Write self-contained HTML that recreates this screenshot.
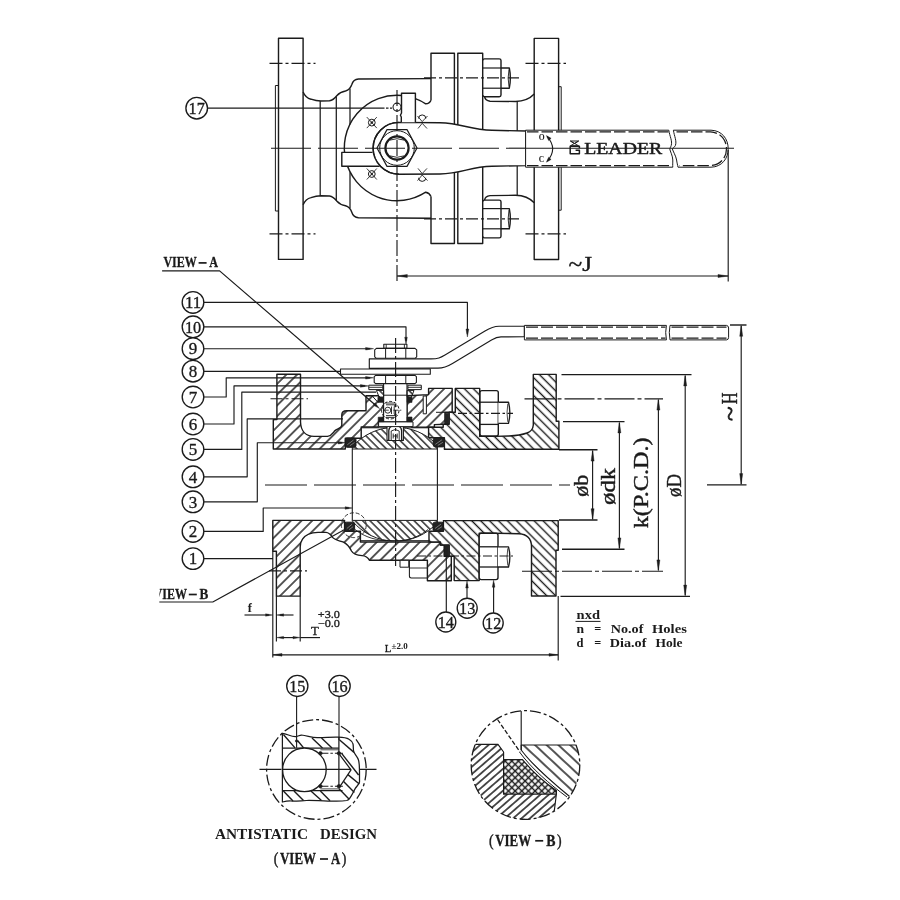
<!DOCTYPE html>
<html><head><meta charset="utf-8"><title>Ball valve</title>
<style>html,body{margin:0;padding:0;background:#fff;}body{width:900px;height:900px;overflow:hidden;font-family:"Liberation Serif",serif;}svg{display:block;will-change:transform;opacity:0.999;}</style>
</head><body>
<svg width="900" height="900" viewBox="0 0 900 900" stroke="#1b1b1b" fill="none" stroke-linecap="butt" stroke-linejoin="round">
<rect x="0" y="0" width="900" height="900" fill="#ffffff" stroke="none"/>
<defs>
<pattern id="hA" width="7.6" height="7.6" patternUnits="userSpaceOnUse" patternTransform="rotate(-45)"><line x1="0" y1="3.8" x2="7.6" y2="3.8" stroke="#1b1b1b" stroke-width="1.45"/></pattern>
<pattern id="hB" width="6.3" height="6.3" patternUnits="userSpaceOnUse" patternTransform="rotate(45)"><line x1="0" y1="3.15" x2="6.3" y2="3.15" stroke="#1b1b1b" stroke-width="1.4"/></pattern>
<pattern id="hC" width="5.2" height="5.2" patternUnits="userSpaceOnUse" patternTransform="rotate(45)"><line x1="0" y1="2.6" x2="5.2" y2="2.6" stroke="#1b1b1b" stroke-width="1.35"/></pattern>
<pattern id="hD" width="5.5" height="5.5" patternUnits="userSpaceOnUse" patternTransform="rotate(-41)"><line x1="0" y1="2.75" x2="5.5" y2="2.75" stroke="#1b1b1b" stroke-width="1.5"/></pattern>
<pattern id="hE" width="8.0" height="8.0" patternUnits="userSpaceOnUse" patternTransform="rotate(43)"><line x1="0" y1="4" x2="8" y2="4" stroke="#1b1b1b" stroke-width="1.5"/></pattern>
<pattern id="hX" width="4.7" height="4.7" patternUnits="userSpaceOnUse" patternTransform="rotate(45)"><path d="M0 2.35H4.7M2.35 0V4.7" stroke="#1b1b1b" stroke-width="1.5"/></pattern>
<pattern id="hV" width="6.2" height="6.2" patternUnits="userSpaceOnUse" patternTransform="rotate(50)"><line x1="0" y1="3.1" x2="6.2" y2="3.1" stroke="#1b1b1b" stroke-width="1.2"/></pattern>
</defs>
<g id="topview">
<rect x="278.5" y="38.3" width="24.6" height="221.1" stroke-width="1.42" fill="none" />
<rect x="275.4" y="85.5" width="3.1" height="125.5" stroke-width="1.0" fill="none" />
<rect x="534.2" y="38.4" width="24.4" height="221.1" stroke-width="1.42" fill="none" />
<rect x="558.6" y="86.7" width="2.6" height="123.5" stroke-width="1.0" fill="none" />
<line x1="269.5" y1="63.4" x2="315.5" y2="63.4" stroke-width="1.15" stroke-dasharray="13 3 3 3" />
<line x1="525.5" y1="63.4" x2="566" y2="63.4" stroke-width="1.15" stroke-dasharray="13 3 3 3" />
<line x1="269.5" y1="233.9" x2="315.5" y2="233.9" stroke-width="1.15" stroke-dasharray="13 3 3 3" />
<line x1="525.5" y1="233.9" x2="566" y2="233.9" stroke-width="1.15" stroke-dasharray="13 3 3 3" />
<path d="M303.1 92.0 C305 96.5 308 98.6 311 99.2 C315 100.6 318 101 321 101 L329.5 100.8 C333 100.3 335 98 337 95.5 C339.5 92.6 342 91.6 345.5 91 C349 90 350.8 87.5 351.8 84.5 C352.8 81 354.8 79.2 358.5 79 L431 78.6" stroke-width="1.42" fill="none" />
<path d="M303.1 204.8 C305 200.3 308 198.2 311 197.6 C315 196.2 318 195.8 321 195.8 L329.5 196.0 C333 196.5 335 198.8 337 201.3 C339.5 204.2 342 205.2 345.5 205.8 C349 206.8 350.8 209.3 351.8 212.3 C352.8 215.8 354.8 217.6 358.5 217.8 L431 218.2" stroke-width="1.42" fill="none" />
<line x1="320.2" y1="101" x2="320.2" y2="195.8" stroke-width="1.25" />
<line x1="336.3" y1="96.5" x2="336.3" y2="200.3" stroke-width="1.25" />
<line x1="350.0" y1="88.5" x2="350.0" y2="124.5" stroke-width="1.25" />
<line x1="350.0" y1="208.3" x2="350.0" y2="172.3" stroke-width="1.25" />
<path d="M431 100.3 L431 53.3 L454.4 53.3 L454.4 243.5 L431 243.5 L431 196.5" stroke-width="1.42" fill="none" />
<rect x="457.8" y="53.3" width="24.9" height="190.2" stroke-width="1.42" fill="none" />
<path d="M401.50 95.49 A52.7 52.7 0 1 0 425.70 192.20 Q429.5 193.0 431 196.5" stroke-width="1.42" fill="none" />
<path d="M415.40 98.62 A52.7 52.7 0 0 1 425.70 103.80 Q429.5 103.8 431 100.3" stroke-width="1.42" fill="none" />
<line x1="424" y1="77.9" x2="519" y2="77.9" stroke-width="1.15" stroke-dasharray="12 3 3 3" />
<line x1="424" y1="218.8" x2="519" y2="218.8" stroke-width="1.15" stroke-dasharray="12 3 3 3" />
<path d="M482.7 60.4 Q482.9 58.9 484.5 58.9 L499.2 58.9 Q501 58.9 501 60.6 L501 95.0 Q501 96.7 499.2 96.7 L484.5 96.7 Q482.9 96.7 482.7 95.2" stroke-width="1.42" fill="none" />
<line x1="482.7" y1="68.0" x2="501" y2="68.0" stroke-width="1.2" />
<line x1="482.7" y1="88.2" x2="501" y2="88.2" stroke-width="1.2" />
<path d="M501 68.0 L509.3 68.0 Q511.4 78 509.3 88.2 L501 88.2" stroke-width="1.42" fill="none" />
<path d="M509.0 69.5 Q507.3 78 509.0 86.7" stroke-width="0.9" fill="none" />
<path d="M484.6 96.7 Q485.2 100.8 490 101.2 L515.5 101.5 C523 101.3 530 98.5 534.2 94.0" stroke-width="1.42" fill="none" />
<line x1="517.2" y1="101.5" x2="517.2" y2="131" stroke-width="1.25" />
<path d="M482.7 236.4 Q482.9 237.9 484.5 237.9 L499.2 237.9 Q501 237.9 501 236.2 L501 201.8 Q501 200.1 499.2 200.1 L484.5 200.1 Q482.9 200.1 482.7 201.6" stroke-width="1.42" fill="none" />
<line x1="482.7" y1="228.8" x2="501" y2="228.8" stroke-width="1.2" />
<line x1="482.7" y1="208.6" x2="501" y2="208.6" stroke-width="1.2" />
<path d="M501 228.8 L509.3 228.8 Q511.4 218.8 509.3 208.6 L501 208.6" stroke-width="1.42" fill="none" />
<path d="M509.0 227.3 Q507.3 218.8 509.0 210.1" stroke-width="0.9" fill="none" />
<path d="M484.6 200.1 Q485.2 196.0 490 195.6 L515.5 195.3 C523 195.5 530 198.3 534.2 202.8" stroke-width="1.42" fill="none" />
<line x1="517.2" y1="195.3" x2="517.2" y2="165.8" stroke-width="1.25" />
<path d="M399 122.4 L440 122.7 C462 123.2 470 130.0 492 130.3 L526 131.0 L526 165.6 L492 166.2 C470 166.6 462 173.6 440 174.0 L399 174.2 A25.4 25.4 0 0 1 399 122.4 Z" stroke-width="1.42" fill="#fff" />
<path d="M401.3 122.3 L401.3 117 L400.4 115.2 L401.5 113 L401.5 93.2 L415.4 93.2 L415.4 122.3" stroke-width="1.42" fill="#fff" />
<path d="M372.5 152.4 L341.8 152.4 L341.8 166.2 L379.5 166.2" stroke-width="1.42" fill="#fff" />
<path d="M399 122.4 A25.4 25.4 0 0 0 399 174.2" stroke-width="1.42" fill="none" />
<path d="M417.00 148.00L407.00 166.36L387.00 166.36L377.00 148.00L387.00 129.64L407.00 129.64Z" stroke-width="1.2" fill="#fff" />
<circle cx="397" cy="148" r="17.3" stroke-width="1.0" fill="none" />
<circle cx="397" cy="148" r="11.6" stroke-width="2.2" fill="none" />
<path d="M389.5 140.2 Q397 137.2 404.5 140.2 M389.5 155.8 Q397 158.8 404.5 155.8" stroke-width="0.9" fill="none" />
<circle cx="397" cy="107.1" r="4.0" stroke-width="1.1" fill="#fff" />
<circle cx="371.8" cy="122.6" r="3.4" stroke-width="1.0" fill="none" />
<circle cx="371.8" cy="122.6" r="0.8" stroke-width="0.8" fill="#1b1b1b" />
<path d="M366.8 117.1L376.8 128.1M376.8 117.1L366.8 128.1" stroke-width="0.85" fill="none" />
<circle cx="371.8" cy="174.0" r="3.4" stroke-width="1.0" fill="none" />
<circle cx="371.8" cy="174.0" r="0.8" stroke-width="0.8" fill="#1b1b1b" />
<path d="M366.8 168.5L376.8 179.5M376.8 168.5L366.8 179.5" stroke-width="0.85" fill="none" />
<path d="M418.6 118.5 A3.6 3.6 0 0 1 425.8 118.5" stroke-width="1.0" fill="none" />
<path d="M417.5 116.0 L422.2 121.6 L427.5 116.0 M418.0 128.5 L422.2 123.3 L427.0 128.5" stroke-width="0.85" fill="none" />
<path d="M418.6 177.8 A3.6 3.6 0 0 0 425.8 177.8" stroke-width="1.0" fill="none" />
<path d="M417.5 180.6 L422.2 175.0 L427.5 180.6 M418.0 168.4 L422.2 173.6 L427.0 168.4" stroke-width="0.85" fill="none" />
<path d="M668.8 130.2 L525.6 130.2 L525.6 167.2 L672.8 167.2" stroke-width="1.0" fill="#fff" />
<path d="M668.8 130.2 C669.6 136 672.6 141 671.2 145.5 C670.6 147.4 669.8 148.2 669.8 149 C670 151 672.8 156 672.8 160 C672.8 163 672.6 165 672.8 167.2" stroke-width="1.0" fill="none" />
<path d="M673.4 130.2 C674.2 136 677.0 141 675.4 145.5 C674.6 147.4 672.2 148.2 672.4 149 C672.8 151 676.0 156 676.6 160 C677.0 163 677.6 165 678.0 167.2 L711 167.2 C722 166.9 728.2 158.5 728.2 148.7 C728.2 139 722 130.5 711 130.2 Z" stroke-width="1.0" fill="#fff" />
<line x1="527" y1="131.9" x2="668.5" y2="131.9" stroke-width="1.25" stroke-dasharray="11.5 3" />
<line x1="527" y1="165.6" x2="671.5" y2="165.6" stroke-width="1.25" stroke-dasharray="11.5 3" />
<path d="M676.5 131.9 L710.5 131.9 C720.5 132.3 726.5 140 726.5 148.7 C726.5 157.5 720.5 165.2 710.5 165.6 L679.5 165.6" stroke-width="1.25" fill="none" stroke-dasharray="11.5 3" />
<text x="541.6" y="139.8" font-family="'Liberation Serif', serif" font-size="7.6" font-weight="bold" text-anchor="middle" fill="#1b1b1b" stroke="none" >O</text>
<text x="541.6" y="162.1" font-family="'Liberation Serif', serif" font-size="7.6" font-weight="bold" text-anchor="middle" fill="#1b1b1b" stroke="none" >C</text>
<path d="M547.2 136.6 Q558.0 148.6 547.4 161.0" stroke-width="1.1" fill="none" />
<path d="M546.40 135.60L551.14 138.33L548.62 140.60Z" fill="#1b1b1b" stroke="#1b1b1b" stroke-width="0.4"/>
<path d="M546.40 162.20L548.62 157.20L551.14 159.47Z" fill="#1b1b1b" stroke="#1b1b1b" stroke-width="0.4"/>
<path d="M570.4 141.0 L578.6 141.0 L574.5 143.6 Z M570.4 145.8 L578.6 145.8" stroke-width="1.0" fill="none" />
<path d="M570.4 141.0 L578.6 145.8 M578.6 141.0 L570.4 145.8" stroke-width="0.9" fill="none" />
<path d="M579.4 148.2 L579.4 146.2 L570.2 146.2 L570.2 153.8 L579.4 153.8 L579.4 150.2 L575.6 150.2" stroke-width="1.5" fill="none" />
<text x="584.2" y="153.9" font-family="'Liberation Serif', serif" font-size="16.2" font-weight="normal" text-anchor="start" fill="#1b1b1b" stroke="#1b1b1b" stroke-width="0.45" textLength="78" lengthAdjust="spacingAndGlyphs" >LEADER</text>
<line x1="271" y1="148.2" x2="526" y2="148.2" stroke-width="1.15" stroke-dasharray="40 7" />
<line x1="526" y1="148.2" x2="734" y2="148.2" stroke-width="1.15" />
<line x1="397" y1="90" x2="397" y2="281" stroke-width="1.15" stroke-dasharray="16 3 3 3" />
<line x1="207.5" y1="108.1" x2="384.5" y2="108.1" stroke-width="1.15" />
<line x1="386" y1="108.1" x2="392" y2="108.1" stroke-width="1.15" stroke-dasharray="2.5 1.5" />
<circle cx="196.7" cy="108.2" r="10.8" stroke-width="1.35" fill="#fff" />
<text x="196.7" y="113.90" font-family="'Liberation Serif', serif" font-size="17" text-anchor="middle" fill="#1b1b1b" stroke="#1b1b1b" stroke-width="0.35" textLength="16.2" lengthAdjust="spacingAndGlyphs">17</text>
<line x1="397" y1="276.0" x2="728.2" y2="276.0" stroke-width="1.15" />
<path d="M397.30 276.00L407.30 274.40L407.30 277.60Z" fill="#1b1b1b" stroke="#1b1b1b" stroke-width="0.4"/>
<path d="M728.00 276.00L718.00 277.60L718.00 274.40Z" fill="#1b1b1b" stroke="#1b1b1b" stroke-width="0.4"/>
<line x1="728.2" y1="150" x2="728.2" y2="281.5" stroke-width="1.15" />
<text x="568.5" y="270.8" font-family="'Liberation Serif', serif" font-size="21" font-weight="normal" text-anchor="start" fill="#1b1b1b" stroke="#1b1b1b" stroke-width="0.4" textLength="23.5" lengthAdjust="spacingAndGlyphs" >~J</text>
</g>
<g id="section">
<path d="M273.3 419.6 L276.9 419.6 L276.9 374.2 L300.5 374.2 L300.5 422 C300.8 431 306 436.2 314 436.4 L327.5 436.4 C331.5 435.8 333 432.8 334.8 430.8 C337 428.6 341.6 428.3 341.8 425.2 L341.8 415 Q341.8 410.7 346.6 410.7 L366 410.7 L366 395.7 L378.2 395.7 L383.6 401.5 L383.6 421.7 L378.4 421.7 L378.4 427.0 L361.2 427.0 L361.2 438.2 L345.3 438.2 L345.3 449.0 L273.3 449.0 Z" fill="#fff" stroke="none"/>
<path d="M273.3 419.6 L276.9 419.6 L276.9 374.2 L300.5 374.2 L300.5 422 C300.8 431 306 436.2 314 436.4 L327.5 436.4 C331.5 435.8 333 432.8 334.8 430.8 C337 428.6 341.6 428.3 341.8 425.2 L341.8 415 Q341.8 410.7 346.6 410.7 L366 410.7 L366 395.7 L378.2 395.7 L383.6 401.5 L383.6 421.7 L378.4 421.7 L378.4 427.0 L361.2 427.0 L361.2 438.2 L345.3 438.2 L345.3 449.0 L273.3 449.0 Z" fill="url(#hA)" stroke-width="1.42"/>
<path d="M407.0 395.7 L428.6 394.6 L428.6 388.4 L452.2 388.4 L452.2 412.3 L445 412.3 L445 424.2 L434.4 424.6 L434.4 427.2 L411.6 427.0 L411.6 421.7 L407.0 421.7 Z" fill="#fff" stroke="none"/>
<path d="M407.0 395.7 L428.6 394.6 L428.6 388.4 L452.2 388.4 L452.2 412.3 L445 412.3 L445 424.2 L434.4 424.6 L434.4 427.2 L411.6 427.0 L411.6 421.7 L407.0 421.7 Z" fill="url(#hA)" stroke-width="1.42"/>
<rect x="423.2" y="396.0" width="3.2" height="17.8" stroke-width="1.0" fill="#fff" />
<line x1="436" y1="412.3" x2="445" y2="412.3" stroke-width="1.0" />
<path d="M558.9 421.2 L556.2 421.2 L556.2 374.4 L533.3 374.4 L533.3 425.0 C533 429.5 531 431.6 527 433.0 C522 434.8 516 435.7 509 436.0 L495 436.4 L479.7 436.4 L479.7 388.4 L455.3 388.4 L455.3 412.3 L449.2 412.3 L449.2 424.2 L443.2 424.2 L443.2 427.2 L428.6 427.2 L428.6 437.8 L444.4 437.8 L444.4 449.2 L558.9 449.2 Z" fill="#fff" stroke="none"/>
<path d="M558.9 421.2 L556.2 421.2 L556.2 374.4 L533.3 374.4 L533.3 425.0 C533 429.5 531 431.6 527 433.0 C522 434.8 516 435.7 509 436.0 L495 436.4 L479.7 436.4 L479.7 388.4 L455.3 388.4 L455.3 412.3 L449.2 412.3 L449.2 424.2 L443.2 424.2 L443.2 427.2 L428.6 427.2 L428.6 437.8 L444.4 437.8 L444.4 449.2 L558.9 449.2 Z" fill="url(#hB)" stroke-width="1.42"/>
<path d="M272.8 520.4 L344.6 520.4 L344.6 531.2 L360.4 531.2 L360.4 542.0 L440.4 542.0 L440.4 545.0 L444.2 545.0 L444.2 556.4 L451.3 556.4 L451.3 580.8 L427.4 580.8 L427.4 560.3 L369.4 560.3 C367.5 556.5 365.5 555.8 362 555.6 C356 555.3 353.5 554.4 351.5 551 C349.5 547 347.5 544.2 343.5 542.2 C339 540.6 335 540.2 332.6 537.4 C330.5 534.3 329 532.6 326 532.4 L318 532.4 C311 532.6 305 535.2 302.5 539.2 C300.9 541.5 300.2 544 300.2 547 L300.2 596.1 L276.4 596.1 L276.4 551.3 L272.8 551.3 Z" fill="#fff" stroke="none"/>
<path d="M272.8 520.4 L344.6 520.4 L344.6 531.2 L360.4 531.2 L360.4 542.0 L440.4 542.0 L440.4 545.0 L444.2 545.0 L444.2 556.4 L451.3 556.4 L451.3 580.8 L427.4 580.8 L427.4 560.3 L369.4 560.3 C367.5 556.5 365.5 555.8 362 555.6 C356 555.3 353.5 554.4 351.5 551 C349.5 547 347.5 544.2 343.5 542.2 C339 540.6 335 540.2 332.6 537.4 C330.5 534.3 329 532.6 326 532.4 L318 532.4 C311 532.6 305 535.2 302.5 539.2 C300.9 541.5 300.2 544 300.2 547 L300.2 596.1 L276.4 596.1 L276.4 551.3 L272.8 551.3 Z" fill="url(#hA)" stroke-width="1.42"/>
<path d="M558.2 520.6 L558.2 550.2 L556.0 550.2 L556.0 596.0 L531.5 596.0 L531.5 546 C531.2 538.5 527 534.2 519 533.7 L486 533.1 L479.2 533.1 L479.2 580.6 L454.2 580.6 L454.2 556.4 L449.2 556.4 L449.2 545.0 L440.4 545.0 L440.4 542.0 L429.0 542.0 L429.0 531.2 L443.4 531.2 L443.4 520.6 Z" fill="#fff" stroke="none"/>
<path d="M558.2 520.6 L558.2 550.2 L556.0 550.2 L556.0 596.0 L531.5 596.0 L531.5 546 C531.2 538.5 527 534.2 519 533.7 L486 533.1 L479.2 533.1 L479.2 580.6 L454.2 580.6 L454.2 556.4 L449.2 556.4 L449.2 545.0 L440.4 545.0 L440.4 542.0 L429.0 542.0 L429.0 531.2 L443.4 531.2 L443.4 520.6 Z" fill="url(#hB)" stroke-width="1.42"/>
<path d="M352.3 449.0 L352.3 446.81 A57.6 57.6 0 0 1 437.4 445.17 L437.4 449.0 Z" fill="#fff" stroke="none"/>
<path d="M352.3 449.0 L352.3 446.81 A57.6 57.6 0 0 1 437.4 445.17 L437.4 449.0 Z" fill="url(#hC)" stroke-width="1.0"/>
<path d="M352.3 520.4 L352.3 520.94 A56.4 56.4 0 0 0 437.4 522.66 L437.4 520.4 Z" fill="#fff" stroke="none"/>
<path d="M352.3 520.4 L352.3 520.94 A56.4 56.4 0 0 0 437.4 522.66 L437.4 520.4 Z" fill="url(#hC)" stroke-width="1.0"/>
<line x1="352.3" y1="449" x2="352.3" y2="520.4" stroke-width="1.1" />
<line x1="437.4" y1="449" x2="437.4" y2="520.4" stroke-width="1.1" />
<line x1="361.2" y1="427.8" x2="387.2" y2="427.8" stroke-width="1.0" />
<line x1="403.4" y1="427.8" x2="429.0" y2="427.8" stroke-width="1.0" />
<line x1="360.4" y1="540.6" x2="429.0" y2="540.6" stroke-width="0.9" />
<path d="M355 529.5 C362 535 372 540 386 540.6" stroke-width="0.9" fill="none" />
<path d="M428 529.5 C421 535 412 540 400 540.6" stroke-width="0.9" fill="none" />
<rect x="345.3" y="438.0" width="10.699999999999989" height="9.300000000000011" rx="1.8" fill="#222" stroke="#1b1b1b" stroke-width="1"/>
<path d="M347.3 444.8L353.5 440.0M349.8 445.8L354.5 442.5" stroke="#999" stroke-width="0.7"/>
<rect x="433.3" y="437.8" width="11.099999999999966" height="9.099999999999966" rx="1.8" fill="#222" stroke="#1b1b1b" stroke-width="1"/>
<path d="M435.3 444.4L441.9 439.8M437.8 445.4L442.9 442.3" stroke="#999" stroke-width="0.7"/>
<rect x="344.6" y="522.2" width="10.0" height="9.0" rx="1.8" fill="#222" stroke="#1b1b1b" stroke-width="1"/>
<path d="M346.6 528.7L352.1 524.2M349.1 529.7L353.1 526.7" stroke="#999" stroke-width="0.7"/>
<rect x="433.0" y="522.2" width="10.399999999999977" height="8.799999999999955" rx="1.8" fill="#222" stroke="#1b1b1b" stroke-width="1"/>
<path d="M435.0 528.5L440.9 524.2M437.5 529.5L441.9 526.7" stroke="#999" stroke-width="0.7"/>
<rect x="445.2" y="413.4" width="3.6" height="10.6" stroke-width="0.8" fill="#222" />
<rect x="444.4" y="545.2" width="4.4" height="11.2" stroke-width="0.8" fill="#222" />
<path d="M387.0 427.0 L387.0 440.4 L403.4 440.4 L403.4 427.0" stroke-width="1.1" fill="#fff" />
<path d="M388.8 440.0 L388.8 430.5 Q389.0 427.2 392.0 426.0 L395.2 424.6 L398.4 426.0 Q401.4 427.2 401.6 430.5 L401.6 440.0" stroke-width="1.3" fill="#fff" />
<path d="M391.2 440 L391.2 431 Q395.2 428 399.2 431 L399.2 440 M393.2 433.5 L393.2 438.5 M397.2 433.5 L397.2 438.5 M393.2 436 L397.2 436" stroke-width="0.9" fill="none" />
<rect x="383.6" y="383.4" width="23.4" height="38.3" stroke-width="1.1" fill="#fff" />
<line x1="383.6" y1="395.2" x2="407.0" y2="395.2" stroke-width="1.0" />
<rect x="378.6" y="421.9" width="34.4" height="4.7" stroke-width="1.0" fill="#fff" />
<rect x="377.9" y="397.2" width="5.7" height="5.2" stroke-width="0.6" fill="#1e1e1e" />
<rect x="407.0" y="397.2" width="5.0" height="5.2" stroke-width="0.6" fill="#1e1e1e" />
<rect x="378.2" y="417.2" width="5.4" height="4.4" stroke-width="0.6" fill="#1e1e1e" />
<rect x="407.0" y="417.0" width="5.0" height="4.6" stroke-width="0.6" fill="#1e1e1e" />
<path d="M376.4 390.4 L383.6 390.4 L383.6 397.2 L379.2 397.2 Z" stroke-width="1.0" fill="url(#hC)" />
<path d="M407.0 390.4 L414.0 390.4 L411.4 397.2 L407.0 397.2 Z" stroke-width="1.0" fill="url(#hC)" />
<path d="M366 395.7 L372 395.7 L378 402.4" stroke-width="1.0" fill="none" />
<circle cx="390.2" cy="410.2" r="8.8" stroke-width="1.0" fill="none" stroke-dasharray="3.2 1.8" />
<circle cx="387.8" cy="410.2" r="3.0" stroke-width="0.9" fill="none" />
<path d="M383.8 410.2 L402 410.2" stroke-width="0.8" fill="none" stroke-dasharray="5 1.5 1.5 1.5" />
<path d="M386 404.8 L395.5 404.8 M386 415.6 L395.5 415.6 M391.5 406.5 L391.5 414 M394.2 406.5 L394.2 414 M385.6 403.0 L394.8 403.0 M385.6 417.4 L394.8 417.4" stroke-width="0.9" fill="none" />
<circle cx="395.4" cy="406.0" r="0.9" stroke-width="0.6" fill="#1b1b1b" />
<circle cx="395.4" cy="414.6" r="0.9" stroke-width="0.6" fill="#1b1b1b" />
<rect x="368.8" y="385.2" width="14.0" height="4.4" stroke-width="1.0" fill="#fff" />
<line x1="368.8" y1="387.3" x2="382.8" y2="387.3" stroke-width="0.9" />
<rect x="407.9" y="385.2" width="13.4" height="4.4" stroke-width="1.0" fill="#fff" />
<line x1="407.9" y1="387.3" x2="421.3" y2="387.3" stroke-width="0.9" />
<path d="M375.6 375.4 L415.0 375.4 L416.4 376.6 L416.4 382.4 L415.0 383.6 L375.6 383.6 L374.2 382.4 L374.2 376.6 Z" stroke-width="1.1" fill="#fff" />
<line x1="385.6" y1="375.4" x2="385.6" y2="383.6" stroke-width="1.0" />
<line x1="405.8" y1="375.4" x2="405.8" y2="383.6" stroke-width="1.0" />
<rect x="340.5" y="369.0" width="89.8" height="5.3" stroke-width="1.1" fill="#fff" />
<path d="M369.3 358.8 L431 358.9 C438 358.9 440.5 357.6 445 355.0 L485 331.0 C490 328.0 493 326.4 499 326.3 L524.4 326.2 L524.4 336.8 L501 336.9 C497.5 337.0 495 338.0 491.5 340.0 L452.5 363.4 C447.5 366.4 444 368.0 438 368.1 L369.3 368.3 Z" stroke-width="1.15" fill="#fff" />
<rect x="383.8" y="344.3" width="23.1" height="4.1" stroke-width="1.1" fill="#fff" />
<line x1="386.2" y1="344.3" x2="386.2" y2="348.4" stroke-width="0.9" />
<line x1="404.4" y1="344.3" x2="404.4" y2="348.4" stroke-width="0.9" />
<path d="M376.4 348.4 L415.0 348.4 L416.7 349.9 L416.7 356.8 L415.0 358.3 L376.4 358.3 L374.7 356.8 L374.7 349.9 Z" stroke-width="1.1" fill="#fff" />
<line x1="385.6" y1="348.4" x2="385.6" y2="358.3" stroke-width="1.0" />
<line x1="405.8" y1="348.4" x2="405.8" y2="358.3" stroke-width="1.0" />
<path d="M666.4 325.4 L524.4 325.4 L524.4 339.9 L666.4 339.9" stroke-width="1.0" fill="#fff" />
<path d="M666.4 325.4 Q665.0 332.5 666.4 339.9" stroke-width="1.0" fill="none" />
<path d="M670.0 325.4 L726.5 325.4 Q728.6 325.7 728.6 328.0 L728.6 337.4 Q728.6 339.7 726.5 339.9 L670.0 339.9 Q668.6 332.5 670.0 325.4 Z" stroke-width="1.0" fill="#fff" />
<line x1="526" y1="327.2" x2="665.5" y2="327.2" stroke-width="1.2" stroke-dasharray="12 3" />
<line x1="526" y1="338.2" x2="665.5" y2="338.2" stroke-width="1.2" stroke-dasharray="12 3" />
<line x1="671.5" y1="327.2" x2="726.5" y2="327.2" stroke-width="1.2" stroke-dasharray="12 3" />
<line x1="671.5" y1="338.2" x2="726.5" y2="338.2" stroke-width="1.2" stroke-dasharray="12 3" />
<path d="M480.0 392.6 Q480.0 390.6 482.0 390.6 L496.3 390.6 Q498.3 390.6 498.3 392.6 L498.3 433.9 Q498.3 435.9 496.3 435.9 L482.0 435.9 Q480.0 435.9 480.0 433.9 Z" stroke-width="1.4" fill="#fff" />
<line x1="480.0" y1="402.2" x2="498.3" y2="402.2" stroke-width="1.3" />
<line x1="480.0" y1="424.4" x2="498.3" y2="424.4" stroke-width="1.3" />
<path d="M498.3 402.2 L508.5 402.2 Q511.2 412.79999999999995 508.5 423.4 L498.3 423.4" stroke-width="1.35" fill="#fff" />
<path d="M507.8 403.7 Q506.2 412.79999999999995 507.8 421.9" stroke-width="0.8" fill="none" />
<path d="M479.2 535.2 Q479.2 533.2 481.2 533.2 L496.0 533.2 Q498.0 533.2 498.0 535.2 L498.0 577.6 Q498.0 579.6 496.0 579.6 L481.2 579.6 Q479.2 579.6 479.2 577.6 Z" stroke-width="1.4" fill="#fff" />
<line x1="479.2" y1="546.8" x2="498.0" y2="546.8" stroke-width="1.3" />
<line x1="479.2" y1="567.0" x2="498.0" y2="567.0" stroke-width="1.3" />
<path d="M498.0 546.8 L508.5 546.8 Q511.2 556.9 508.5 567.0 L498.0 567.0" stroke-width="1.35" fill="#fff" />
<path d="M507.8 548.3 Q506.2 556.9 507.8 565.5" stroke-width="0.8" fill="none" />
<line x1="458" y1="413.3" x2="513" y2="413.3" stroke-width="1.15" stroke-dasharray="9 2.5 2.5 2.5" />
<line x1="417" y1="556.0" x2="513" y2="556.0" stroke-width="1.15" stroke-dasharray="9 2.5 2.5 2.5" />
<rect x="400.0" y="560.3" width="8.8" height="6.9" stroke-width="1.0" fill="#fff" />
<path d="M409.4 560.3 L409.4 576 Q409.4 578 411.4 578 L427.4 578" stroke-width="1.05" fill="none" />
<line x1="409.4" y1="568.0" x2="427.4" y2="568.0" stroke-width="0.9" />
<line x1="270.5" y1="398.7" x2="308" y2="398.7" stroke-width="1.15" stroke-dasharray="12 3 3 3" />
<line x1="269" y1="570.9" x2="307" y2="570.9" stroke-width="1.15" stroke-dasharray="12 3 3 3" />
<line x1="265" y1="485.0" x2="570" y2="485.0" stroke-width="1.15" stroke-dasharray="42 7" />
<line x1="395.6" y1="338" x2="395.6" y2="566" stroke-width="1.15" stroke-dasharray="15 3 3 3" />
<circle cx="353.8" cy="525.2" r="12.4" stroke-width="0.9" fill="none" stroke-dasharray="4 2" />
</g>
<g id="dims">
<path d="M203.8 302.4 L467.4 302.4 L467.4 334" stroke-width="1.15" fill="none" />
<path d="M467.40 337.00L466.00 329.00L468.80 329.00Z" fill="#1b1b1b" stroke="#1b1b1b" stroke-width="0.4"/>
<path d="M203.8 326.8 L406.0 326.8 L406.0 341" stroke-width="1.15" fill="none" />
<path d="M406.00 344.20L404.70 337.20L407.30 337.20Z" fill="#1b1b1b" stroke="#1b1b1b" stroke-width="0.4"/>
<path d="M203.8 348.7 L370 348.7" stroke-width="1.15" fill="none" />
<path d="M373.60 348.70L365.60 350.00L365.60 347.40Z" fill="#1b1b1b" stroke="#1b1b1b" stroke-width="0.4"/>
<path d="M203.8 371.4 L340.5 371.4" stroke-width="1.15" fill="none" />
<path d="M203.8 397.0 L226.2 397.0 L226.2 377.8 L370 377.8" stroke-width="1.15" fill="none" />
<path d="M373.60 377.80L365.60 379.10L365.60 376.50Z" fill="#1b1b1b" stroke="#1b1b1b" stroke-width="0.4"/>
<path d="M203.8 424.0 L234.0 424.0 L234.0 385.9 L365 385.9" stroke-width="1.15" fill="none" />
<path d="M368.40 385.90L360.40 387.20L360.40 384.60Z" fill="#1b1b1b" stroke="#1b1b1b" stroke-width="0.4"/>
<path d="M203.8 449.4 L241.8 449.4 L241.8 392.1 L376 392.1" stroke-width="1.15" fill="none" />
<path d="M203.8 476.8 L247.2 476.8 L247.2 418.9 L343 418.9" stroke-width="1.15" fill="none" />
<path d="M203.8 501.8 L257.3 501.8 L257.3 442.7 L342 442.7" stroke-width="1.15" fill="none" />
<path d="M345.20 442.70L338.20 444.00L338.20 441.40Z" fill="#1b1b1b" stroke="#1b1b1b" stroke-width="0.4"/>
<path d="M203.8 531.4 L263.2 531.4 L263.2 508.0 L349 508.0" stroke-width="1.15" fill="none" />
<path d="M352.20 508.00L345.20 509.30L345.20 506.70Z" fill="#1b1b1b" stroke="#1b1b1b" stroke-width="0.4"/>
<path d="M203.8 558.6 L273.0 558.6" stroke-width="1.15" fill="none" />
<circle cx="193.0" cy="302.4" r="10.8" stroke-width="1.35" fill="#fff" />
<text x="193.0" y="308.09" font-family="'Liberation Serif', serif" font-size="17" text-anchor="middle" fill="#1b1b1b" stroke="#1b1b1b" stroke-width="0.35" textLength="16.2" lengthAdjust="spacingAndGlyphs">11</text>
<circle cx="193.0" cy="326.8" r="10.8" stroke-width="1.35" fill="#fff" />
<text x="193.0" y="332.50" font-family="'Liberation Serif', serif" font-size="17" text-anchor="middle" fill="#1b1b1b" stroke="#1b1b1b" stroke-width="0.35" textLength="16.2" lengthAdjust="spacingAndGlyphs">10</text>
<circle cx="193.0" cy="348.7" r="10.8" stroke-width="1.35" fill="#fff" />
<text x="193.0" y="354.39" font-family="'Liberation Serif', serif" font-size="17" text-anchor="middle" fill="#1b1b1b" stroke="#1b1b1b" stroke-width="0.35">9</text>
<circle cx="193.0" cy="371.2" r="10.8" stroke-width="1.35" fill="#fff" />
<text x="193.0" y="376.89" font-family="'Liberation Serif', serif" font-size="17" text-anchor="middle" fill="#1b1b1b" stroke="#1b1b1b" stroke-width="0.35">8</text>
<circle cx="193.0" cy="397.0" r="10.8" stroke-width="1.35" fill="#fff" />
<text x="193.0" y="402.69" font-family="'Liberation Serif', serif" font-size="17" text-anchor="middle" fill="#1b1b1b" stroke="#1b1b1b" stroke-width="0.35">7</text>
<circle cx="193.0" cy="424.0" r="10.8" stroke-width="1.35" fill="#fff" />
<text x="193.0" y="429.69" font-family="'Liberation Serif', serif" font-size="17" text-anchor="middle" fill="#1b1b1b" stroke="#1b1b1b" stroke-width="0.35">6</text>
<circle cx="193.0" cy="449.4" r="10.8" stroke-width="1.35" fill="#fff" />
<text x="193.0" y="455.09" font-family="'Liberation Serif', serif" font-size="17" text-anchor="middle" fill="#1b1b1b" stroke="#1b1b1b" stroke-width="0.35">5</text>
<circle cx="193.0" cy="476.8" r="10.8" stroke-width="1.35" fill="#fff" />
<text x="193.0" y="482.50" font-family="'Liberation Serif', serif" font-size="17" text-anchor="middle" fill="#1b1b1b" stroke="#1b1b1b" stroke-width="0.35">4</text>
<circle cx="193.0" cy="501.8" r="10.8" stroke-width="1.35" fill="#fff" />
<text x="193.0" y="507.50" font-family="'Liberation Serif', serif" font-size="17" text-anchor="middle" fill="#1b1b1b" stroke="#1b1b1b" stroke-width="0.35">3</text>
<circle cx="193.0" cy="531.4" r="10.8" stroke-width="1.35" fill="#fff" />
<text x="193.0" y="537.10" font-family="'Liberation Serif', serif" font-size="17" text-anchor="middle" fill="#1b1b1b" stroke="#1b1b1b" stroke-width="0.35">2</text>
<circle cx="193.0" cy="558.6" r="10.8" stroke-width="1.35" fill="#fff" />
<text x="193.0" y="564.30" font-family="'Liberation Serif', serif" font-size="17" text-anchor="middle" fill="#1b1b1b" stroke="#1b1b1b" stroke-width="0.35">1</text>
<path d="M446.3 556.5 L446.3 612" stroke-width="1.15" fill="none" />
<path d="M467.0 584 L467.0 598" stroke-width="1.15" fill="none" />
<path d="M467.00 581.00L468.30 588.00L465.70 588.00Z" fill="#1b1b1b" stroke="#1b1b1b" stroke-width="0.4"/>
<path d="M493.6 583 L493.6 613" stroke-width="1.15" fill="none" />
<path d="M493.60 580.20L494.90 587.20L492.30 587.20Z" fill="#1b1b1b" stroke="#1b1b1b" stroke-width="0.4"/>
<circle cx="445.8" cy="622.0" r="10.0" stroke-width="1.35" fill="#fff" />
<text x="445.8" y="627.70" font-family="'Liberation Serif', serif" font-size="17" text-anchor="middle" fill="#1b1b1b" stroke="#1b1b1b" stroke-width="0.35" textLength="16.2" lengthAdjust="spacingAndGlyphs">14</text>
<circle cx="467.2" cy="608.2" r="10.0" stroke-width="1.35" fill="#fff" />
<text x="467.2" y="613.90" font-family="'Liberation Serif', serif" font-size="17" text-anchor="middle" fill="#1b1b1b" stroke="#1b1b1b" stroke-width="0.35" textLength="16.2" lengthAdjust="spacingAndGlyphs">13</text>
<circle cx="493.2" cy="623.0" r="10.0" stroke-width="1.35" fill="#fff" />
<text x="493.2" y="628.70" font-family="'Liberation Serif', serif" font-size="17" text-anchor="middle" fill="#1b1b1b" stroke="#1b1b1b" stroke-width="0.35" textLength="16.2" lengthAdjust="spacingAndGlyphs">12</text>
<text x="163.4" y="267.4" font-family="'Liberation Serif', serif" font-size="15.2" font-weight="bold" text-anchor="start" fill="#1b1b1b" stroke="#1b1b1b" stroke-width="0.3" textLength="33.4" lengthAdjust="spacingAndGlyphs" >VIEW</text>
<line x1="198.60000000000002" y1="262.9" x2="206.60000000000002" y2="262.9" stroke-width="1.7" />
<text x="209.2" y="267.4" font-family="'Liberation Serif', serif" font-size="15.2" font-weight="bold" text-anchor="start" fill="#1b1b1b" stroke="#1b1b1b" stroke-width="0.3" textLength="8.8" lengthAdjust="spacingAndGlyphs" >A</text>
<path d="M162.1 270.9 L219.6 270.9 L376.5 406.0" stroke-width="1.25" fill="none" />
<path d="M379.50 408.60L373.30 405.06L375.14 402.95Z" fill="#1b1b1b" stroke="#1b1b1b" stroke-width="0.4"/>
<text x="153.6" y="599.0" font-family="'Liberation Serif', serif" font-size="15.2" font-weight="bold" text-anchor="start" fill="#1b1b1b" stroke="#1b1b1b" stroke-width="0.3" textLength="33.4" lengthAdjust="spacingAndGlyphs" >VIEW</text>
<line x1="188.8" y1="594.5" x2="196.8" y2="594.5" stroke-width="1.7" />
<text x="199.39999999999998" y="599.0" font-family="'Liberation Serif', serif" font-size="15.2" font-weight="bold" text-anchor="start" fill="#1b1b1b" stroke="#1b1b1b" stroke-width="0.3" textLength="8.8" lengthAdjust="spacingAndGlyphs" >B</text>
<rect x="140" y="580" width="19.3" height="24" fill="#fff" stroke="none"/>
<path d="M159.3 602.0 L212.8 602.0 L346.5 528.5" stroke-width="1.15" fill="none" />
<line x1="561.5" y1="374.6" x2="691.5" y2="374.6" stroke-width="1.42" />
<line x1="560.5" y1="596.4" x2="690" y2="596.4" stroke-width="1.42" />
<line x1="685.2" y1="376" x2="685.2" y2="595" stroke-width="1.15" />
<path d="M685.20 374.90L686.70 385.90L683.70 385.90Z" fill="#1b1b1b" stroke="#1b1b1b" stroke-width="0.4"/>
<path d="M685.20 596.10L683.70 585.10L686.70 585.10Z" fill="#1b1b1b" stroke="#1b1b1b" stroke-width="0.4"/>
<line x1="524.5" y1="398.8" x2="663" y2="398.8" stroke-width="1.15" stroke-dasharray="30 3 4 3" />
<line x1="522" y1="571.2" x2="663" y2="571.2" stroke-width="1.15" stroke-dasharray="30 3 4 3" />
<line x1="658.4" y1="400" x2="658.4" y2="570" stroke-width="1.15" />
<path d="M658.40 399.10L659.90 410.10L656.90 410.10Z" fill="#1b1b1b" stroke="#1b1b1b" stroke-width="0.4"/>
<path d="M658.40 570.90L656.90 559.90L659.90 559.90Z" fill="#1b1b1b" stroke="#1b1b1b" stroke-width="0.4"/>
<line x1="563" y1="421.6" x2="624.5" y2="421.6" stroke-width="1.42" />
<line x1="562" y1="549.2" x2="624.5" y2="549.2" stroke-width="1.42" />
<line x1="619.4" y1="423" x2="619.4" y2="548" stroke-width="1.15" />
<path d="M619.40 421.90L620.90 432.90L617.90 432.90Z" fill="#1b1b1b" stroke="#1b1b1b" stroke-width="0.4"/>
<path d="M619.40 548.90L617.90 537.90L620.90 537.90Z" fill="#1b1b1b" stroke="#1b1b1b" stroke-width="0.4"/>
<line x1="559" y1="449.8" x2="597.5" y2="449.8" stroke-width="1.42" />
<line x1="559" y1="520.0" x2="597.5" y2="520.0" stroke-width="1.42" />
<line x1="592.6" y1="451" x2="592.6" y2="519" stroke-width="1.15" />
<path d="M592.60 450.10L594.10 461.10L591.10 461.10Z" fill="#1b1b1b" stroke="#1b1b1b" stroke-width="0.4"/>
<path d="M592.60 519.70L591.10 508.70L594.10 508.70Z" fill="#1b1b1b" stroke="#1b1b1b" stroke-width="0.4"/>
<text transform="translate(587.6 485.7) rotate(-90)" x="0" y="0" font-family="'Liberation Serif', serif" font-size="20" text-anchor="middle" fill="#1b1b1b" stroke="#1b1b1b" stroke-width="0.4" textLength="22.0" lengthAdjust="spacingAndGlyphs">&#248;b</text>
<text transform="translate(615.0 486.4) rotate(-90)" x="0" y="0" font-family="'Liberation Serif', serif" font-size="20" text-anchor="middle" fill="#1b1b1b" stroke="#1b1b1b" stroke-width="0.4" textLength="37" lengthAdjust="spacingAndGlyphs">&#248;dk</text>
<text transform="translate(648.4 482.8) rotate(-90)" x="0" y="0" font-family="'Liberation Serif', serif" font-size="21.5" text-anchor="middle" fill="#1b1b1b" stroke="#1b1b1b" stroke-width="0.4" textLength="91" lengthAdjust="spacingAndGlyphs">k(P.C.D.)</text>
<text transform="translate(681.2 485.4) rotate(-90)" x="0" y="0" font-family="'Liberation Serif', serif" font-size="20" text-anchor="middle" fill="#1b1b1b" stroke="#1b1b1b" stroke-width="0.4" textLength="23.0" lengthAdjust="spacingAndGlyphs">&#248;D</text>
<line x1="730" y1="325.0" x2="746.5" y2="325.0" stroke-width="1.42" />
<line x1="707" y1="484.9" x2="746.5" y2="484.9" stroke-width="1.42" />
<line x1="741.2" y1="326" x2="741.2" y2="484" stroke-width="1.15" />
<path d="M741.20 325.30L742.70 336.30L739.70 336.30Z" fill="#1b1b1b" stroke="#1b1b1b" stroke-width="0.4"/>
<path d="M741.20 484.60L739.70 473.60L742.70 473.60Z" fill="#1b1b1b" stroke="#1b1b1b" stroke-width="0.4"/>
<text transform="translate(737.4 404.2) rotate(-90)" x="0" y="0" font-family="'Liberation Serif', serif" font-size="22.4" text-anchor="start" fill="#1b1b1b" stroke="#1b1b1b" stroke-width="0.4" textLength="11.8" lengthAdjust="spacingAndGlyphs">H</text>
<text transform="translate(737.6 421.0) rotate(-90)" x="0" y="0" font-family="'Liberation Serif', serif" font-size="22.4" text-anchor="start" fill="#1b1b1b" stroke="#1b1b1b" stroke-width="0.7" textLength="14.5" lengthAdjust="spacingAndGlyphs">~</text>
<line x1="272.8" y1="551.3" x2="272.8" y2="657.5" stroke-width="1.15" />
<line x1="276.4" y1="596.1" x2="276.4" y2="641.5" stroke-width="1.15" />
<line x1="300.2" y1="596.1" x2="300.2" y2="641.5" stroke-width="1.15" />
<line x1="558.2" y1="596.0" x2="558.2" y2="660.5" stroke-width="1.15" />
<line x1="244.5" y1="615.0" x2="269" y2="615.0" stroke-width="1.15" />
<path d="M272.60 615.00L265.60 616.20L265.60 613.80Z" fill="#1b1b1b" stroke="#1b1b1b" stroke-width="0.4"/>
<line x1="280" y1="615.0" x2="293.5" y2="615.0" stroke-width="1.15" />
<path d="M276.60 615.00L283.60 613.80L283.60 616.20Z" fill="#1b1b1b" stroke="#1b1b1b" stroke-width="0.4"/>
<text x="247.8" y="611.6" font-family="'Liberation Serif', serif" font-size="12.5" font-weight="bold" text-anchor="start" fill="#1b1b1b" stroke="none" >f</text>
<line x1="283" y1="637.6" x2="294" y2="637.6" stroke-width="1.15" />
<path d="M276.60 637.60L283.60 636.40L283.60 638.80Z" fill="#1b1b1b" stroke="#1b1b1b" stroke-width="0.4"/>
<path d="M300.00 637.60L293.00 638.80L293.00 636.40Z" fill="#1b1b1b" stroke="#1b1b1b" stroke-width="0.4"/>
<line x1="300.2" y1="637.6" x2="320" y2="637.6" stroke-width="1.15" />
<text x="311.0" y="635.0" font-family="'Liberation Serif', serif" font-size="12.8" font-weight="normal" text-anchor="start" fill="#1b1b1b" stroke="#1b1b1b" stroke-width="0.3" >T</text>
<text x="317.8" y="618.4" font-family="'Liberation Serif', serif" font-size="10.8" font-weight="normal" text-anchor="start" fill="#1b1b1b" stroke="#1b1b1b" stroke-width="0.3" textLength="22.2" lengthAdjust="spacingAndGlyphs" >+3.0</text>
<text x="317.8" y="626.6" font-family="'Liberation Serif', serif" font-size="10.8" font-weight="normal" text-anchor="start" fill="#1b1b1b" stroke="#1b1b1b" stroke-width="0.3" textLength="22.2" lengthAdjust="spacingAndGlyphs" >&#8722;0.0</text>
<line x1="272.8" y1="654.8" x2="558.2" y2="654.8" stroke-width="1.15" />
<path d="M273.00 654.80L282.00 653.40L282.00 656.20Z" fill="#1b1b1b" stroke="#1b1b1b" stroke-width="0.4"/>
<path d="M558.00 654.80L549.00 656.20L549.00 653.40Z" fill="#1b1b1b" stroke="#1b1b1b" stroke-width="0.4"/>
<text x="384.8" y="651.6" font-family="'Liberation Serif', serif" font-size="10.8" font-weight="normal" text-anchor="start" fill="#1b1b1b" stroke="#1b1b1b" stroke-width="0.3" >L</text>
<text x="391.6" y="649.4" font-family="'Liberation Serif', serif" font-size="7.6" font-weight="bold" text-anchor="start" fill="#1b1b1b" stroke="none" textLength="16.2" lengthAdjust="spacingAndGlyphs" >&#177;2.0</text>
<text x="576.6" y="619.0" font-family="'Liberation Serif', serif" font-size="13.3" font-weight="bold" text-anchor="start" fill="#1b1b1b" stroke="none" textLength="23.4" lengthAdjust="spacingAndGlyphs" >nxd</text>
<line x1="575.5" y1="621.4" x2="600.5" y2="621.4" stroke-width="1.0" />
<text x="576.6" y="633.4" font-family="'Liberation Serif', serif" font-size="13.3" font-weight="bold" text-anchor="start" fill="#1b1b1b" stroke="none" textLength="7.6" lengthAdjust="spacingAndGlyphs" >n</text>
<text x="594.2" y="633.4" font-family="'Liberation Serif', serif" font-size="13.3" font-weight="bold" text-anchor="start" fill="#1b1b1b" stroke="none" textLength="7.0" lengthAdjust="spacingAndGlyphs" >=</text>
<text x="610.8" y="633.4" font-family="'Liberation Serif', serif" font-size="13.3" font-weight="bold" text-anchor="start" fill="#1b1b1b" stroke="none" textLength="32.6" lengthAdjust="spacingAndGlyphs" >No.of</text>
<text x="652.0" y="633.4" font-family="'Liberation Serif', serif" font-size="13.3" font-weight="bold" text-anchor="start" fill="#1b1b1b" stroke="none" textLength="34.8" lengthAdjust="spacingAndGlyphs" >Holes</text>
<text x="576.6" y="647.4" font-family="'Liberation Serif', serif" font-size="13.3" font-weight="bold" text-anchor="start" fill="#1b1b1b" stroke="none" textLength="7.0" lengthAdjust="spacingAndGlyphs" >d</text>
<text x="594.2" y="647.4" font-family="'Liberation Serif', serif" font-size="13.3" font-weight="bold" text-anchor="start" fill="#1b1b1b" stroke="none" textLength="7.0" lengthAdjust="spacingAndGlyphs" >=</text>
<text x="609.8" y="647.4" font-family="'Liberation Serif', serif" font-size="13.3" font-weight="bold" text-anchor="start" fill="#1b1b1b" stroke="none" textLength="36.6" lengthAdjust="spacingAndGlyphs" >Dia.of</text>
<text x="655.4" y="647.4" font-family="'Liberation Serif', serif" font-size="13.3" font-weight="bold" text-anchor="start" fill="#1b1b1b" stroke="none" textLength="27.0" lengthAdjust="spacingAndGlyphs" >Hole</text>
</g>
<g id="viewA">
<circle cx="316.4" cy="769.5" r="49.8" stroke-width="1.3" fill="none" stroke-dasharray="11 3 3 3" />
<line x1="259.5" y1="769.4" x2="376.5" y2="769.4" stroke-width="1.15" stroke-dasharray="22 3 4 3" />
<path d="M282.4 733.4 C287 733.6 291 737.0 296 736.6 C298.5 736.2 299.5 735.0 301.4 735.0 C307 735.4 311 737.6 317.2 737.7 C325 737.8 331 736.8 338.4 737.1 C343 737.2 346.5 737.6 349 739.3 C351.5 740.8 352.6 742 353 744 C353.6 746.5 353.0 749 353.7 751.4 C354.8 754.8 357.4 756.5 358.4 759.8 C359.6 763.5 359.3 767.5 359.5 771.5 L359.5 782 C358.8 785 356.6 786.2 355.3 788.4 C353.4 791.6 352 795 350 797.9 C349.2 799.2 348.2 800.2 346.8 800.5 C340 801.6 334 801.0 327.8 801.0 C320 800.9 313 800.3 306.7 800.5 C301 800.7 296 801.2 290.8 801.0 C287.5 800.9 285 801.4 282.4 802.0 Z" fill="#fff" stroke-width="1.25"/>
<line x1="282.4" y1="748.2" x2="338.9" y2="748.2" stroke-width="1.25" />
<line x1="282.4" y1="790.5" x2="342.5" y2="790.5" stroke-width="1.25" />
<line x1="320.4" y1="749.8" x2="338.9" y2="749.8" stroke-width="0.8" />
<line x1="320.4" y1="788.9" x2="338.9" y2="788.9" stroke-width="0.8" />
<line x1="338.9" y1="737.1" x2="338.9" y2="787.0" stroke-width="1.25" />
<path d="M339.6 754.6 L351.0 769.9 L339.2 787.6" stroke-width="1.25" fill="none" />
<line x1="283.4" y1="734.5" x2="295.0" y2="747.9" stroke-width="1.4" />
<line x1="297.7" y1="740.8" x2="303.6" y2="747.9" stroke-width="1.4" />
<line x1="312.0" y1="737.9" x2="322.5" y2="747.9" stroke-width="1.4" />
<line x1="321.5" y1="737.9" x2="332.0" y2="747.9" stroke-width="1.4" />
<line x1="283.4" y1="791.0" x2="293.0" y2="801.0" stroke-width="1.4" />
<line x1="294.0" y1="791.0" x2="303.5" y2="800.6" stroke-width="1.4" />
<line x1="310.9" y1="791.0" x2="321.5" y2="800.6" stroke-width="1.4" />
<line x1="320.4" y1="791.0" x2="330.0" y2="800.8" stroke-width="1.4" />
<line x1="339.4" y1="739.8" x2="354.0" y2="752.4" stroke-width="1.4" />
<line x1="341.6" y1="753.4" x2="358.6" y2="775.0" stroke-width="1.4" />
<line x1="347.9" y1="774.6" x2="359.3" y2="784.0" stroke-width="1.4" />
<line x1="343.6" y1="781.6" x2="354.4" y2="792.4" stroke-width="1.4" />
<line x1="338.8" y1="788.6" x2="349.2" y2="799.2" stroke-width="1.4" />
<circle cx="304.4" cy="769.8" r="21.8" stroke-width="1.3" fill="#fff" />
<line x1="282.4" y1="769.4" x2="351" y2="769.4" stroke-width="1.15" />
<line x1="320.4" y1="753.3" x2="344.8" y2="753.3" stroke-width="1.1" stroke-dasharray="8 2 2.5 2" />
<line x1="320.4" y1="786.2" x2="344.8" y2="786.2" stroke-width="1.1" stroke-dasharray="8 2 2.5 2" />
<circle cx="320.4" cy="753.3" r="1.8" stroke-width="0.6" fill="#1b1b1b" />
<circle cx="338.9" cy="753.3" r="1.8" stroke-width="0.6" fill="#1b1b1b" />
<circle cx="320.4" cy="786.2" r="1.8" stroke-width="0.6" fill="#1b1b1b" />
<circle cx="338.9" cy="786.2" r="1.8" stroke-width="0.6" fill="#1b1b1b" />
<line x1="296.6" y1="696.5" x2="296.6" y2="747.8" stroke-width="1.1" />
<line x1="339.0" y1="696.5" x2="339.0" y2="740.0" stroke-width="1.1" />
<circle cx="296.6" cy="741.0" r="1.3" stroke-width="0.5" fill="#1b1b1b" />
<circle cx="297.3" cy="685.9" r="10.6" stroke-width="1.35" fill="#fff" />
<text x="297.3" y="691.60" font-family="'Liberation Serif', serif" font-size="17" text-anchor="middle" fill="#1b1b1b" stroke="#1b1b1b" stroke-width="0.35" textLength="16.2" lengthAdjust="spacingAndGlyphs">15</text>
<circle cx="339.6" cy="685.9" r="10.6" stroke-width="1.35" fill="#fff" />
<text x="339.6" y="691.60" font-family="'Liberation Serif', serif" font-size="17" text-anchor="middle" fill="#1b1b1b" stroke="#1b1b1b" stroke-width="0.35" textLength="16.2" lengthAdjust="spacingAndGlyphs">16</text>
<text x="215.0" y="839.0" font-family="'Liberation Serif', serif" font-size="15.4" font-weight="bold" text-anchor="start" fill="#1b1b1b" stroke="none" textLength="93.0" lengthAdjust="spacingAndGlyphs" >ANTISTATIC</text>
<text x="320.0" y="839.0" font-family="'Liberation Serif', serif" font-size="15.4" font-weight="bold" text-anchor="start" fill="#1b1b1b" stroke="none" textLength="57.0" lengthAdjust="spacingAndGlyphs" >DESIGN</text>
<text x="273.7" y="864.4" font-family="'Liberation Serif', serif" font-size="17.5" font-weight="normal" text-anchor="start" fill="#1b1b1b" stroke="#1b1b1b" stroke-width="0.45" textLength="4.6" lengthAdjust="spacingAndGlyphs" >(</text>
<text x="280.0" y="863.8" font-family="'Liberation Serif', serif" font-size="16" font-weight="bold" text-anchor="start" fill="#1b1b1b" stroke="#1b1b1b" stroke-width="0.35" textLength="36.0" lengthAdjust="spacingAndGlyphs" >VIEW</text>
<line x1="320.0" y1="859.0" x2="328.0" y2="859.0" stroke-width="1.7" />
<text x="331.0" y="863.8" font-family="'Liberation Serif', serif" font-size="16" font-weight="bold" text-anchor="start" fill="#1b1b1b" stroke="#1b1b1b" stroke-width="0.35" textLength="9.2" lengthAdjust="spacingAndGlyphs" >A</text>
<text x="341.8" y="864.4" font-family="'Liberation Serif', serif" font-size="17.5" font-weight="normal" text-anchor="start" fill="#1b1b1b" stroke="#1b1b1b" stroke-width="0.45" textLength="4.6" lengthAdjust="spacingAndGlyphs" >)</text>
</g>
<g id="viewB">
<clipPath id="cb"><circle cx="525.5" cy="765.0" r="54.3"/></clipPath>
<g clip-path="url(#cb)">
<path d="M465 744.4 L498 744.4 L503.6 752 L503.6 794 L556.4 794 L554.4 810 L548 830 L465 830 Z" fill="url(#hD)" stroke-width="1.15"/>
<path d="M521.2 745.0 L590 745.0 L590 800 L569 796.0 C552 782 533 766 521.2 750 Z" fill="url(#hE)" stroke-width="1.15"/>
<path d="M503.6 759.6 L522.5 759.6 C531 770 543 781.5 556.4 790.5 L556.4 794 L503.6 794 Z" fill="#fff" stroke="none"/>
<path d="M503.6 759.6 L522.5 759.6 C531 770 543 781.5 556.4 790.5 L556.4 794 L503.6 794 Z" fill="url(#hX)" stroke-width="1.2"/>
<line x1="521.2" y1="705" x2="521.2" y2="750.0" stroke-width="1.15" />
<path d="M519.5 752 C531 768 550 784.5 567 797" stroke-width="1.0" fill="none" />
<line x1="497.5" y1="719.5" x2="520.0" y2="752.0" stroke-width="1.3" stroke-dasharray="4.5 2" />
</g>
<circle cx="525.5" cy="765.0" r="54.3" stroke-width="1.3" fill="none" stroke-dasharray="11 3 3 3" />
<text x="488.9" y="846.2" font-family="'Liberation Serif', serif" font-size="17.5" font-weight="normal" text-anchor="start" fill="#1b1b1b" stroke="#1b1b1b" stroke-width="0.45" textLength="4.6" lengthAdjust="spacingAndGlyphs" >(</text>
<text x="495.2" y="845.6" font-family="'Liberation Serif', serif" font-size="16" font-weight="bold" text-anchor="start" fill="#1b1b1b" stroke="#1b1b1b" stroke-width="0.35" textLength="36.0" lengthAdjust="spacingAndGlyphs" >VIEW</text>
<line x1="535.2" y1="840.8000000000001" x2="543.2" y2="840.8000000000001" stroke-width="1.7" />
<text x="546.2" y="845.6" font-family="'Liberation Serif', serif" font-size="16" font-weight="bold" text-anchor="start" fill="#1b1b1b" stroke="#1b1b1b" stroke-width="0.35" textLength="9.2" lengthAdjust="spacingAndGlyphs" >B</text>
<text x="557.0" y="846.2" font-family="'Liberation Serif', serif" font-size="17.5" font-weight="normal" text-anchor="start" fill="#1b1b1b" stroke="#1b1b1b" stroke-width="0.45" textLength="4.6" lengthAdjust="spacingAndGlyphs" >)</text>
</g>
</svg>
</body></html>
